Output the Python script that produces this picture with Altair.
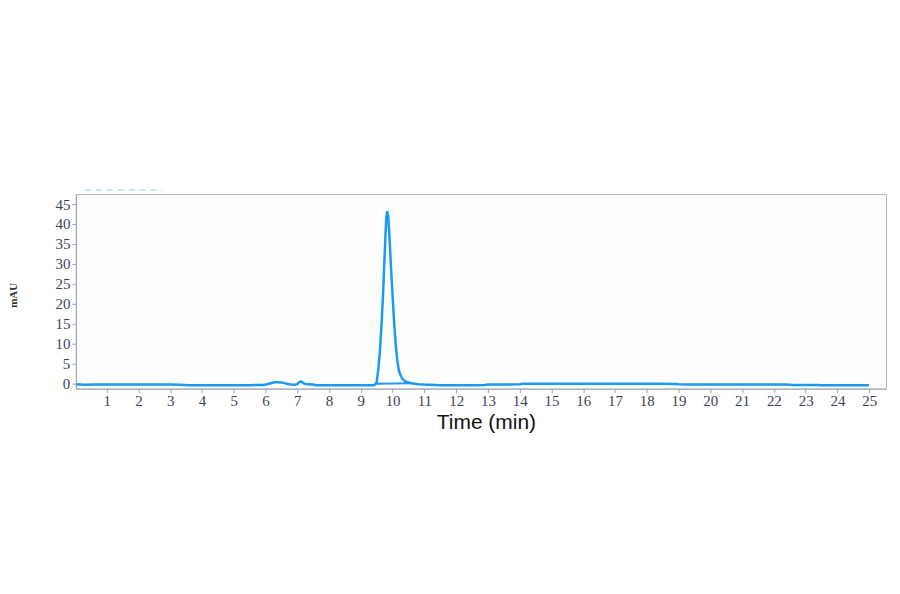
import altair as alt
import pandas as pd

# Chromatogram trace (time in minutes, absorbance in mAU)
times = [0.05, 0.3, 0.6, 1.0, 1.5, 2.0, 2.5, 3.0, 3.3, 3.6, 4.0, 4.5, 5.0, 5.5, 5.9,
         6.0, 6.1, 6.2, 6.3, 6.4, 6.5, 6.6, 6.7, 6.8, 6.9, 7.0, 7.05, 7.1, 7.15, 7.2,
         7.3, 7.5, 7.6, 8.0, 8.5, 9.0, 9.4, 9.45, 9.5, 9.55, 9.6, 9.65, 9.7, 9.75,
         9.8, 9.83, 9.86, 9.9, 9.95, 10.0, 10.05, 10.1, 10.15, 10.2, 10.25, 10.3,
         10.35, 10.4, 10.5, 10.6, 10.8, 11.0, 11.5, 12.0, 12.5, 12.9, 13.0, 13.5,
         14.0, 14.1, 15.0, 16.0, 17.0, 18.0, 18.5, 18.9, 19.0, 19.3, 20.0, 21.0,
         22.0, 22.4, 22.6, 23.0, 23.4, 23.5, 24.0, 24.5, 25.0]
mau = [-0.2, -0.35, -0.3, -0.3, -0.3, -0.3, -0.3, -0.3, -0.35, -0.45, -0.45, -0.45, -0.45, -0.45, -0.4,
       -0.3, -0.1, 0.1, 0.25, 0.28, 0.2, 0.05, -0.15, -0.3, -0.35, -0.2, 0.2, 0.45, 0.35, 0.0,
       -0.25, -0.3, -0.45, -0.45, -0.45, -0.45, -0.45, -0.3, 0.4, 3.5, 8.0, 14.5, 22.5, 32.5,
       41.5, 43.2, 42.0, 37.0, 29.0, 22.0, 15.0, 9.5, 5.5, 3.2, 2.0, 1.2,
       0.8, 0.5, 0.2, 0.0, -0.2, -0.3, -0.45, -0.45, -0.45, -0.4, -0.3, -0.3,
       -0.25, -0.1, -0.1, -0.1, -0.1, -0.1, -0.1, -0.15, -0.25, -0.3, -0.3, -0.3,
       -0.3, -0.3, -0.4, -0.4, -0.4, -0.5, -0.5, -0.5, -0.5]

# Integration baseline drawn beneath the main peak
base_times = [9.47, 10.6]
base_mau = [-0.1, 0.0]

x_ticks = list(range(1, 26))
y_ticks = list(range(0, 50, 5))

trace = pd.DataFrame({"t": times, "v": mau})
base = pd.DataFrame({"t": base_times, "v": base_mau})

LINE = "#1a9af0"
LABEL_COLOR = "#3c4254"
AXIS_COLOR = "#9da2b0"

x_scale = alt.Scale(domain=[0.03, 25.53], nice=False, zero=False)
y_scale = alt.Scale(domain=[-1.33, 47.5], nice=False, zero=False)

x_axis = alt.Axis(
    values=x_ticks, tickCount=30, title="Time (min)", grid=False, labelOverlap=False,
    labelFont="Liberation Serif", labelFontSize=15, labelColor=LABEL_COLOR,
    labelPadding=1, tickSize=4, tickColor=AXIS_COLOR, domainColor=AXIS_COLOR,
    titleFont="Liberation Sans", titleFontSize=21, titleFontWeight="normal",
    titleColor="#111111", titleX=411, titleY=34, titleBaseline="middle",
    titleAlign="center",
)
y_axis = alt.Axis(
    values=y_ticks, tickCount=12, title="mAU", grid=False, labelOverlap=False,
    labelFont="Liberation Serif", labelFontSize=15, labelColor=LABEL_COLOR,
    labelPadding=2, tickSize=4, tickColor=AXIS_COLOR, domainColor=AXIS_COLOR,
    titleFont="Liberation Serif", titleFontSize=11, titleFontWeight="bold",
    titleColor="#333333", titleX=-62, titleY=101, titleAngle=270,
    titleBaseline="middle", titleAlign="center",
)

main = alt.Chart(trace).mark_line(color=LINE, strokeWidth=2.5, clip=True).encode(
    x=alt.X("t:Q", scale=x_scale, axis=x_axis),
    y=alt.Y("v:Q", scale=y_scale, axis=y_axis),
)
baseline = alt.Chart(base).mark_line(color=LINE, strokeWidth=2, clip=True).encode(
    x=alt.X("t:Q", scale=x_scale, axis=x_axis),
    y=alt.Y("v:Q", scale=y_scale, axis=y_axis),
)
legend_hint = alt.Chart(pd.DataFrame({"a": [0]})).mark_rule(
    color="#b5dcf8", strokeWidth=1.5, strokeDash=[6, 5]
).encode(x=alt.value(9), x2=alt.value(87), y=alt.value(-4))

chart = alt.layer(main, baseline, legend_hint).properties(
    width=812, height=195,
    autosize=alt.AutoSizeParams(type="none"),
    padding={"left": 68, "top": 186, "right": 6, "bottom": 60},
    background="white",
).configure_view(
    stroke="#b4b8c4", strokeWidth=1, fill="#fdfdfe"
)

chart.save("out.html", embed_options={"renderer": "svg", "actions": False})
